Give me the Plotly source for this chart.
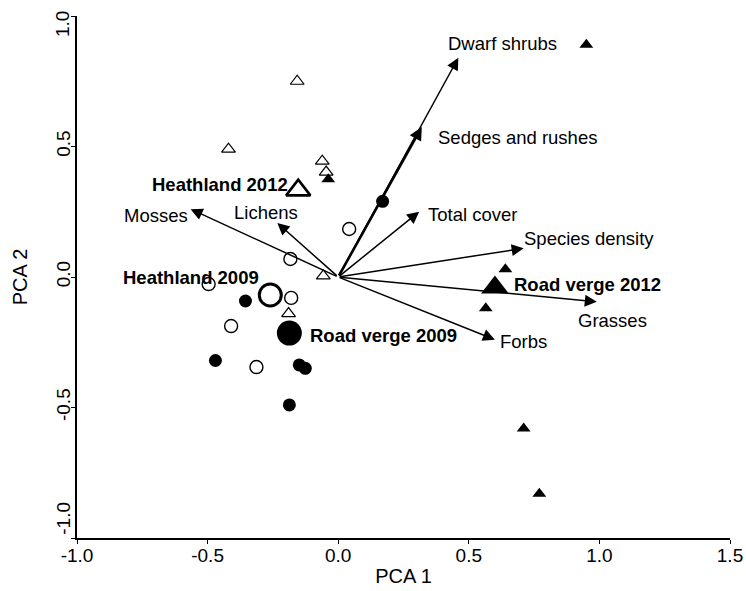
import plotly.graph_objects as go

# ---- data ----
h09_x = [0.042, -0.183, -0.496, -0.18, -0.41, -0.313]
h09_y = [0.184, 0.069, -0.027, -0.08, -0.188, -0.345]
h09_centroid = (-0.26, -0.069)

rv09_x = [-0.355, -0.47, -0.149, -0.126, -0.187, 0.17]
rv09_y = [-0.092, -0.32, -0.337, -0.35, -0.49, 0.29]
rv09_centroid = (-0.187, -0.215)

h12_x = [-0.157, -0.42, -0.061, -0.046, -0.057, -0.19]
h12_y = [0.75, 0.49, 0.444, 0.402, 0.004, -0.14]
h12_centroid = (-0.153, 0.333)

rv12_x = [-0.038, 0.95, 0.64, 0.565, 0.71, 0.77]
rv12_y = [0.375, 0.89, 0.03, -0.12, -0.58, -0.83]
rv12_centroid = (0.60, -0.04)

vec_names = ["Dwarf shrubs", "Sedges and rushes", "Total cover", "Species density",
             "Grasses", "Forbs", "Mosses", "Lichens"]
vec_x = [0.46, 0.32, 0.31, 0.71, 0.99, 0.60, -0.565, -0.233]
vec_y = [0.84, 0.575, 0.25, 0.11, -0.095, -0.24, 0.26, 0.207]
vec_width = [1.5, 2.6, 1.5, 1.5, 1.5, 1.5, 1.5, 1.5]
# label anchor points
vec_lab_x = [0.63, 0.374, 0.336, 0.702, 0.912, 0.61, -0.697, -0.275]
vec_lab_y = [0.893, 0.536, 0.238, 0.149, -0.165, -0.249, 0.235, 0.249]
vec_lab_anchor = ["center", "left", "left", "left", "left", "left", "center", "center"]

grp_names = ["Heathland 2012", "Heathland 2009", "Road verge 2009", "Road verge 2012"]
grp_lab_x = [-0.454, -0.563, -0.115, 0.664]
grp_lab_y = [0.356, 0.0, -0.225, -0.03]
grp_lab_anchor = ["center", "center", "left", "left"]

x_ticks = [-1.0, -0.5, 0.0, 0.5, 1.0, 1.5]
y_ticks = [-1.0, -0.5, 0.0, 0.5, 1.0]

FONT = "Arial, 'Liberation Sans', sans-serif"
LAB = 18.5
TICK = 19

fig = go.Figure()

annotations = []
for nx, ny, w in zip(vec_x, vec_y, vec_width):
    annotations.append(dict(
        x=nx, y=ny, ax=0, ay=0, xref="x", yref="y", axref="x", ayref="y",
        showarrow=True, arrowhead=2, arrowsize=1.6 if w < 2 else 1.0,
        arrowwidth=w, arrowcolor="black", text=""))
for name, lx, ly, anc in zip(vec_names, vec_lab_x, vec_lab_y, vec_lab_anchor):
    annotations.append(dict(x=lx, y=ly, xref="x", yref="y", text=name, showarrow=False,
                            xanchor=anc, yanchor="middle",
                            font=dict(family=FONT, size=LAB, color="black")))
for name, lx, ly, anc in zip(grp_names, grp_lab_x, grp_lab_y, grp_lab_anchor):
    annotations.append(dict(x=lx, y=ly, xref="x", yref="y", text="<b>" + name + "</b>",
                            showarrow=False, xanchor=anc, yanchor="middle",
                            font=dict(family=FONT, size=LAB, color="black")))
# end y tick labels sit slightly inward from their ticks in the reference
for val, pos in [(y_ticks[0], -0.925), (y_ticks[-1], 0.97)]:
    annotations.append(dict(x=-0.021, y=pos, xref="paper", yref="y", text=f"{val:.1f}",
                            showarrow=False, textangle=-90, xanchor="center", yanchor="middle",
                            font=dict(family=FONT, size=TICK, color="black")))

# points
fig.add_trace(go.Scatter(x=h09_x, y=h09_y, mode="markers", cliponaxis=False,
                         marker=dict(symbol="circle", size=13, color="white",
                                     line=dict(color="black", width=1.4))))
fig.add_trace(go.Scatter(x=rv09_x, y=rv09_y, mode="markers", cliponaxis=False,
                         marker=dict(symbol="circle", size=13, color="black",
                                     line=dict(color="black", width=0))))
fig.add_trace(go.Scatter(x=h12_x, y=h12_y, mode="markers", cliponaxis=False,
                         marker=dict(symbol="triangle-up", size=12, color="white",
                                     line=dict(color="black", width=1.2))))
fig.add_trace(go.Scatter(x=rv12_x, y=rv12_y, mode="markers", cliponaxis=False,
                         marker=dict(symbol="triangle-up", size=12, color="black",
                                     line=dict(color="black", width=0))))
# centroids
fig.add_trace(go.Scatter(x=[h09_centroid[0]], y=[h09_centroid[1]], mode="markers",
                         marker=dict(symbol="circle", size=22, color="rgba(0,0,0,0)",
                                     line=dict(color="black", width=3))))
fig.add_trace(go.Scatter(x=[rv09_centroid[0]], y=[rv09_centroid[1]], mode="markers",
                         marker=dict(symbol="circle", size=25, color="black",
                                     line=dict(width=0))))
fig.add_trace(go.Scatter(x=[h12_centroid[0]], y=[h12_centroid[1]], mode="markers",
                         marker=dict(symbol="triangle-up", size=21, color="white",
                                     line=dict(color="black", width=2.6))))
fig.add_trace(go.Scatter(x=[rv12_centroid[0]], y=[rv12_centroid[1]], mode="markers",
                         marker=dict(symbol="triangle-up", size=24, color="black",
                                     line=dict(width=0))))

fig.update_layout(
    width=746, height=591,
    margin=dict(l=77, r=16, t=16, b=53),
    paper_bgcolor="white", plot_bgcolor="white",
    showlegend=False,
    font=dict(family=FONT, size=LAB, color="black"),
    annotations=annotations,
    xaxis=dict(range=[-1.0, 1.5], tickvals=x_ticks, ticktext=[f"{v:.1f}" for v in x_ticks],
               automargin=False, ticklabeloverflow="allow", ticklabelstandoff=-5,
               showgrid=False, zeroline=False, showline=True, linecolor="black", linewidth=1.5,
               ticks="outside", ticklen=4, tickcolor="black", tickwidth=1,
               tickfont=dict(family=FONT, size=TICK, color="black"),
               title=dict(text="PCA 1", font=dict(family=FONT, size=20), standoff=4)),
    yaxis=dict(range=[-1.0, 1.0], tickvals=y_ticks,
               ticktext=[""] + [f"{v:.1f}" for v in y_ticks[1:-1]] + [""],
               automargin=False, ticklabeloverflow="allow", ticklabelstandoff=-6,
               showgrid=False, zeroline=False, showline=True, linecolor="black", linewidth=1.5,
               ticks="outside", ticklen=4, tickcolor="black", tickwidth=1, tickangle=-90,
               tickfont=dict(family=FONT, size=TICK, color="black"),
               title=dict(text="PCA 2", font=dict(family=FONT, size=20), standoff=20)),
)

fig.write_html("out.html", config={"displayModeBar": False},
               post_script="document.body.style.margin='0';document.body.style.overflow='hidden';")
